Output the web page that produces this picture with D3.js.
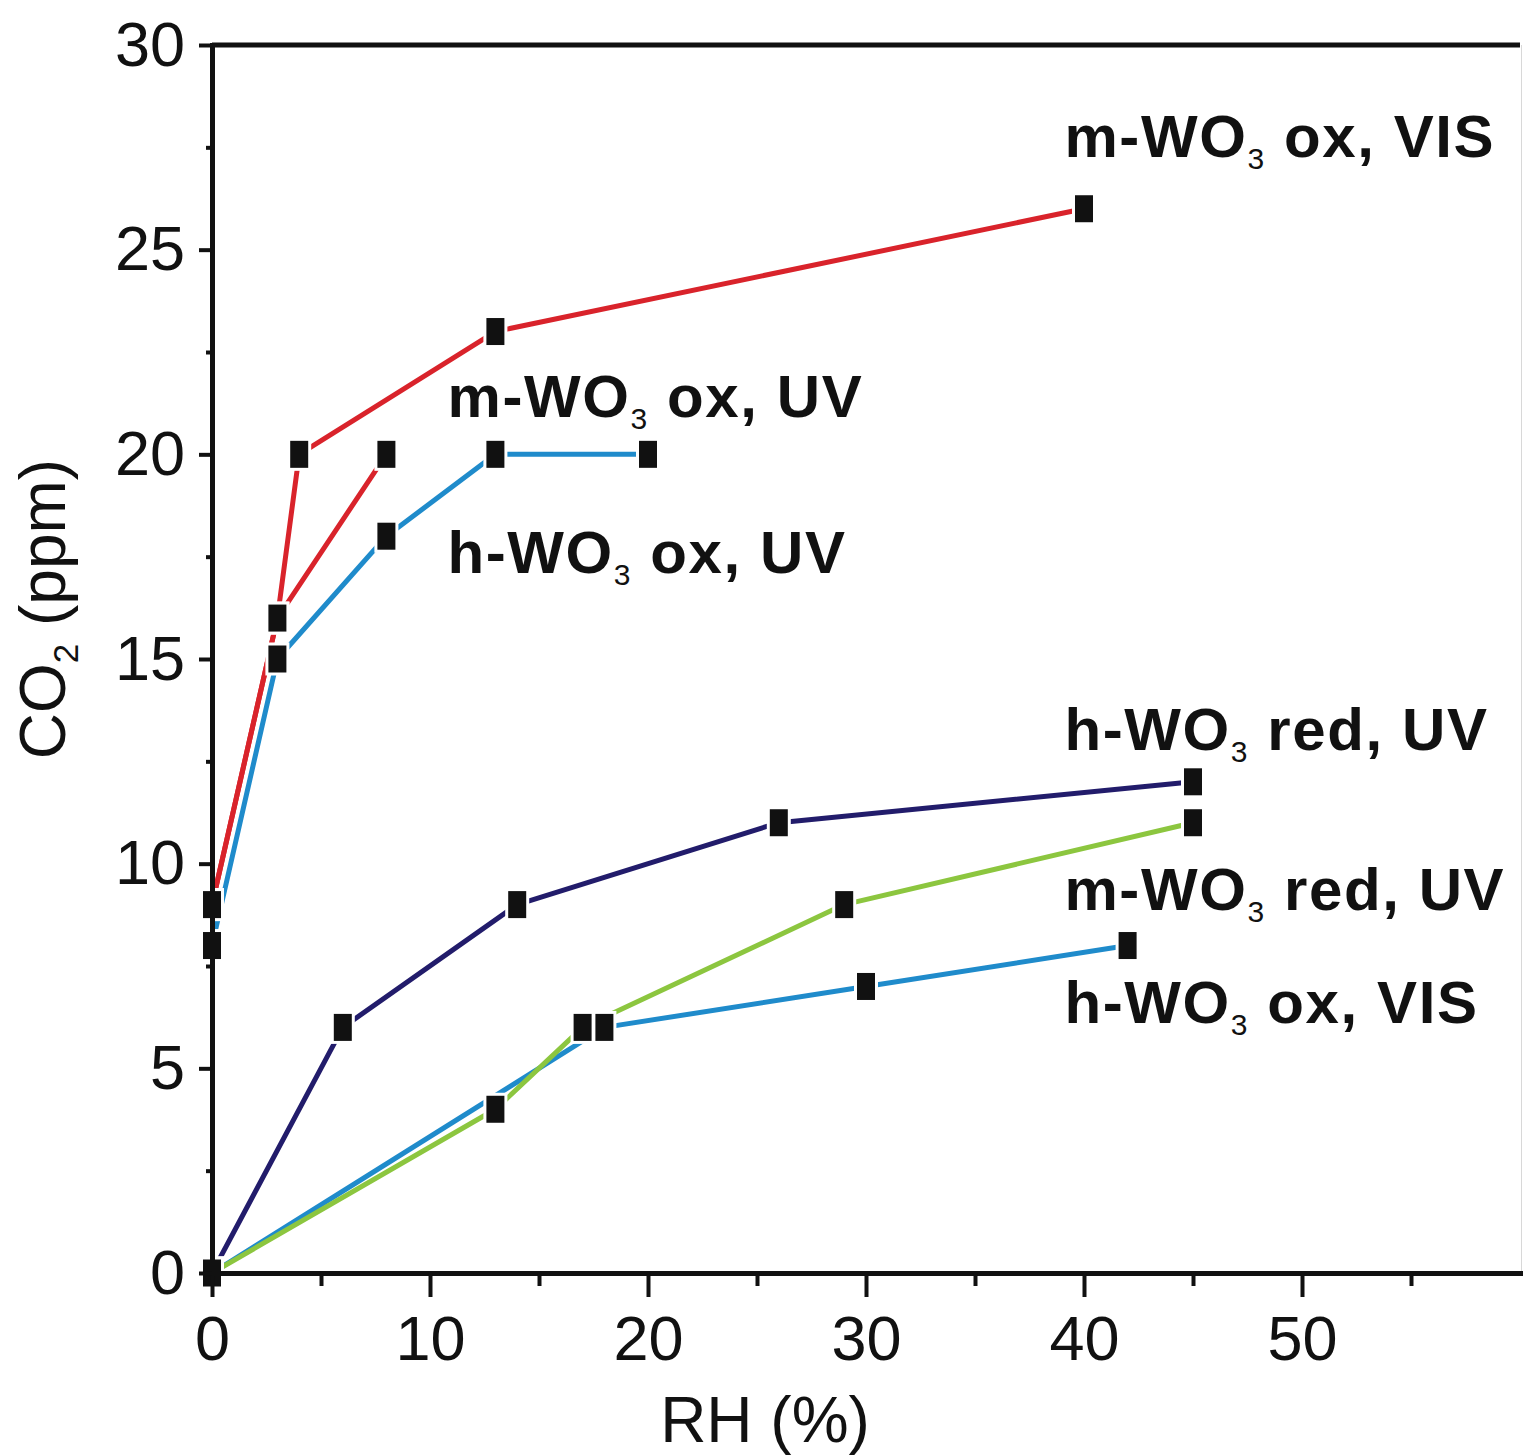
<!DOCTYPE html>
<html>
<head>
<meta charset="utf-8">
<script src="https://cdn.jsdelivr.net/npm/d3@7"></script>
<style>
  body { margin: 0; background: #fff; }
  text { font-family: "Liberation Sans", Arial, sans-serif; }
</style>
</head>
<body>
<svg width="1524" height="1455"></svg>
<script>
// values: RH (%) and CO2 (ppm)
var mOxVisRH  = [0, 3, 4, 13, 40],  mOxVisCO2  = [9, 16, 20, 23, 26];
var mOxUvRH   = [0, 3, 8],          mOxUvCO2   = [9, 16, 20];
var hOxUvRH   = [0, 3, 8, 13, 20],  hOxUvCO2   = [8, 15, 18, 20, 20];
var hRedUvRH  = [0, 6, 14, 26, 45], hRedUvCO2  = [0, 6, 9, 11, 12];
var mRedUvRH  = [0, 13, 17, 29, 45], mRedUvCO2 = [0, 4, 6, 9, 11];
var hOxVisRH  = [0, 18, 30, 42],    hOxVisCO2  = [0, 6, 7, 8];

var xTicks = [0, 10, 20, 30, 40, 50];
var xMinor = [5, 15, 25, 35, 45, 55];
var yTicks = [0, 5, 10, 15, 20, 25, 30];
var yMinor = [2.5, 7.5, 12.5, 17.5, 22.5, 27.5];

// series labels: [prefix, subscript, suffix] and anchor in data units
var labelNames = [
  ["m-WO", "3", " ox, VIS"],
  ["m-WO", "3", " ox, UV"],
  ["h-WO", "3", " ox, UV"],
  ["h-WO", "3", " red, UV"],
  ["m-WO", "3", " red, UV"],
  ["h-WO", "3", " ox, VIS"]
];
var labelRH  = [39.1, 10.8, 10.8, 39.1, 39.1, 39.1];
var labelCO2 = [27.27, 20.9, 17.1, 12.78, 8.87, 6.11];

var series = [
  {rh: hOxUvRH,  co2: hOxUvCO2,  color: "#1f8bcb"},
  {rh: mOxUvRH,  co2: mOxUvCO2,  color: "#d9232b"},
  {rh: mOxVisRH, co2: mOxVisCO2, color: "#d9232b"},
  {rh: hOxVisRH, co2: hOxVisCO2, color: "#1f8bcb"},
  {rh: mRedUvRH, co2: mRedUvCO2, color: "#8cc63f"},
  {rh: hRedUvRH, co2: hRedUvCO2, color: "#221c6b"}
];

var svg = d3.select("svg");

var x = d3.scaleLinear().domain([0, 60]).range([212, 1520]),
    y = d3.scaleLinear().domain([0, 30]).range([1273, 45]);

var line = d3.line()
    .x(function(d) { return x(d[0]); })
    .y(function(d) { return y(d[1]); });

var plot = svg.append("g");

series.forEach(function(s) {
  var pts = s.rh.map(function(v, i) { return [v, s.co2[i]]; });
  plot.append("path")
      .attr("d", line(pts))
      .attr("fill", "none")
      .attr("stroke", s.color)
      .attr("stroke-width", 5)
      .attr("stroke-linejoin", "round");
});

series.forEach(function(s) {
  var pts = s.rh.map(function(v, i) { return [v, s.co2[i]]; });
  plot.selectAll(null)
    .data(pts)
    .enter().append("rect")
      .attr("x", function(d) { return x(d[0]) - 10.5; })
      .attr("y", function(d) { return y(d[1]) - 15; })
      .attr("width", 21)
      .attr("height", 30)
      .attr("fill", "#111")
      .attr("stroke", "#fff")
      .attr("stroke-width", 3);
});

// faint right border
svg.append("line")
    .attr("x1", 1521.5).attr("x2", 1521.5)
    .attr("y1", y(30)).attr("y2", y(0))
    .attr("stroke", "#d8d8d8")
    .attr("stroke-width", 1);

// top frame line
svg.append("line")
    .attr("x1", x(0)).attr("x2", x(60))
    .attr("y1", y(30)).attr("y2", y(30))
    .attr("stroke", "#111")
    .attr("stroke-width", 5);

svg.append("g")
    .attr("transform", "translate(0," + y(0) + ")")
    .call(d3.axisBottom(x).tickValues(xTicks).tickSize(24).tickSizeOuter(0).tickPadding(18));

svg.append("g")
    .attr("transform", "translate(0," + y(0) + ")")
    .call(d3.axisBottom(x).tickValues(xMinor).tickSize(13).tickSizeOuter(0).tickFormat(""))
    .select(".domain").remove();

svg.append("g")
    .attr("transform", "translate(" + x(0) + ",0)")
    .call(d3.axisLeft(y).tickValues(yTicks).tickSize(13).tickSizeOuter(0).tickPadding(14));

svg.append("g")
    .attr("transform", "translate(" + x(0) + ",0)")
    .call(d3.axisLeft(y).tickValues(yMinor).tickSize(6).tickSizeOuter(0).tickFormat(""))
    .select(".domain").remove();

svg.selectAll(".domain")
    .attr("stroke", "#111")
    .attr("stroke-width", 5)
    .attr("stroke-linecap", "square");
svg.selectAll(".tick line")
    .attr("stroke", "#111")
    .attr("stroke-width", 4);
svg.selectAll(".tick text")
    .attr("fill", "#111")
    .style("font-size", "63px")
    .style("font-family", "'Liberation Sans', Arial, sans-serif");

// axis titles
svg.append("text")
    .attr("x", 765)
    .attr("y", 1442)
    .attr("text-anchor", "middle")
    .attr("fill", "#111")
    .style("font-size", "64px")
    .text("RH (%)");

var yTitle = svg.append("text")
    .attr("transform", "translate(65,609) rotate(-90)")
    .attr("text-anchor", "middle")
    .attr("fill", "#111")
    .style("font-size", "64px");
yTitle.append("tspan").text("CO");
yTitle.append("tspan").attr("dy", 13).style("font-size", "35px").text("2");
yTitle.append("tspan").attr("dy", -13).text(" (ppm)");

// series labels
labelNames.forEach(function(n, i) {
  var t = svg.append("text")
      .attr("x", x(labelRH[i]))
      .attr("y", y(labelCO2[i]))
      .attr("fill", "#111")
      .style("font-size", "60px")
      .style("font-weight", "bold")
      .style("letter-spacing", "1.6px");
  t.append("tspan").text(n[0]);
  t.append("tspan").attr("dy", 12).style("font-size", "30px").style("font-weight", "normal").text(n[1]);
  t.append("tspan").attr("dy", -12).text(n[2]);
});
</script>
</body>
</html>
